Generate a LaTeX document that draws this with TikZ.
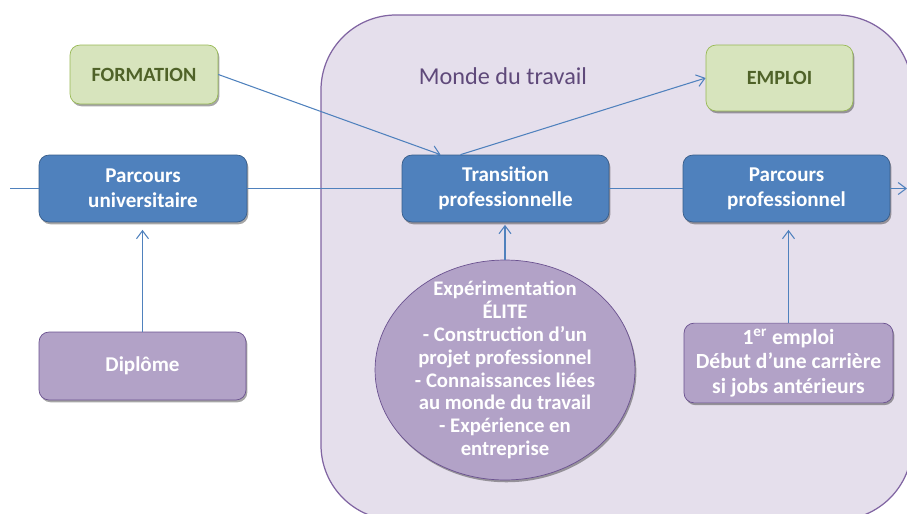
\documentclass[tikz,border=0pt]{standalone}
\usepackage{fontspec}
\setmainfont{Carlito}
\usetikzlibrary{arrows.meta,shadows,shapes.geometric}
\definecolor{bleu}{HTML}{4F81BD}
\definecolor{bleufonce}{HTML}{385D8A}
\definecolor{mauve}{HTML}{B2A2C7}
\definecolor{mauvefonce}{HTML}{6B5290}
\definecolor{vert}{HTML}{D7E4BD}
\definecolor{vertbord}{HTML}{98B954}
\definecolor{verttexte}{HTML}{4F6228}
\definecolor{fondmonde}{HTML}{E5DFEC}
\definecolor{bordmonde}{HTML}{8064A2}
\definecolor{titremonde}{HTML}{5F497A}
\begin{document}
\begin{tikzpicture}[x=0.02cm,y=-0.02cm,
  ombre/.style={drop shadow={shadow xshift=0.8pt,shadow yshift=-1.3pt,opacity=0.35,fill=black}},
  boite/.style={rectangle,rounded corners=2mm,draw=bleufonce,fill=bleu,text=white,ombre,
    font=\bfseries\fontsize{12}{14.2}\selectfont,align=center,minimum width=4.16cm,minimum height=1.34cm},
  boitemauve/.style={boite,draw=mauvefonce,fill=mauve},
  boiteverte/.style={rectangle,rounded corners=2mm,draw=vertbord,fill=vert,text=verttexte,ombre,
    font=\bfseries\fontsize{11.5}{14}\selectfont,minimum width=2.96cm,minimum height=1.18cm},
  fleche/.style={draw=bleu,line width=0.6pt,-{Straight Barb[length=1.6mm,width=2.4mm]}},
  trait/.style={draw=bleu,line width=0.6pt}]
\useasboundingbox (0,0) rectangle (907,514);
% monde du travail
\draw[draw=bordmonde,fill=fondmonde,line width=0.7pt,rounded corners=1.5cm] (321,15) rectangle (912,520);
\node[text=titremonde,font=\fontsize{13.8}{16}\selectfont] (monde) at (503,76) {Monde du travail};

\node[boiteverte] (formation) at (144,74.5) {FORMATION};
\node[boiteverte,minimum width=2.94cm,minimum height=1.32cm] (emploi) at (779.5,78) {EMPLOI};

\node[boite] (univ) at (143,188.5) {Parcours\\universitaire};
\node[boite,minimum width=4.14cm] (trans) at (505.5,188.5) {Transition\\professionnelle};
\node[boite,minimum width=4.14cm] (pro) at (786.5,188.5) {Parcours\\professionnel};

\node[boitemauve,minimum width=4.14cm,minimum height=1.36cm] (diplome) at (142.5,366) {Diplôme};
\node[ellipse,draw=mauvefonce,fill=mauve,text=white,ombre,inner xsep=0pt,inner ysep=-8pt,
  font=\bfseries\fontsize{11.8}{13}\selectfont,align=center,
  minimum width=5.2cm,minimum height=4.4cm] (elite) at (505,370)
  {Expérimentation\\ÉLITE\\- Construction d’un\\projet professionnel\\- Connaissances liées\\au monde du travail\\- Expérience en\\entreprise};
\node[boitemauve,minimum width=4.18cm,minimum height=1.52cm,font=\bfseries\fontsize{12.3}{14}\selectfont] (premier) at (788.5,363)
  {1\textsuperscript{er} emploi\\Début d’une carrière\\si jobs antérieurs};

\coordinate (debut) at (10,188.5);
\coordinate (fin) at (907,188.5);

\draw[trait] (debut) -- (univ);
\draw[trait] (univ) -- (trans);
\draw[trait] (trans) -- (pro);
\draw[fleche] (pro) -- (fin);
\draw[fleche] (formation.east) -- ([xshift=-1.3cm]trans.north);
\draw[fleche] ([xshift=-0.9cm]trans.north) -- (emploi.west);
\draw[fleche,shorten >=1.5mm] (diplome.north) -- (diplome.north |- univ.south);
\draw[fleche,shorten >=0.5mm] (elite.north) -- (elite.north |- trans.south);
\draw[fleche,shorten >=1.5mm] (premier.north) -- (premier.north |- pro.south);
\end{tikzpicture}
\end{document}
